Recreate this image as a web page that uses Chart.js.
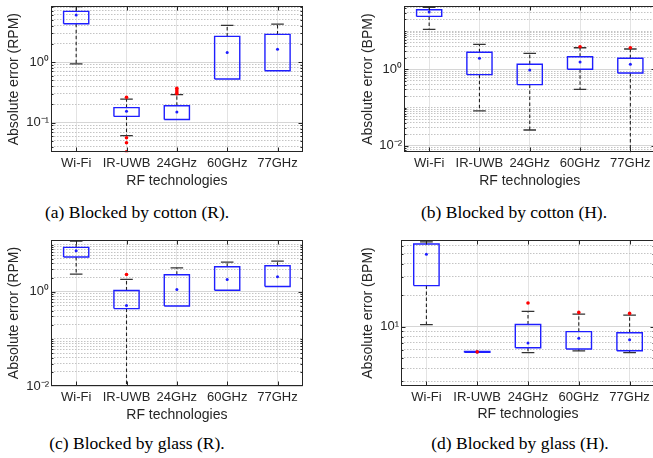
<!DOCTYPE html>
<html><head><meta charset="utf-8">
<script src="https://cdn.jsdelivr.net/npm/chart.js@4.4.1/dist/chart.umd.min.js"></script>
<style>
html,body{margin:0;padding:0;background:#fff;width:653px;height:458px;overflow:hidden;position:relative}
.pane{position:absolute}
.pane canvas{display:block}
.cap{position:absolute;font-family:"Liberation Serif","Times New Roman",serif;font-size:17.5px;color:#000;white-space:nowrap;transform:translate(-50%,-50%)}
</style></head><body>
<div class="pane" style="left:0px;top:0px"><canvas id="ca" width="326" height="195"></canvas></div>
<div class="pane" style="left:330px;top:0px"><canvas id="cb" width="340" height="195"></canvas></div>
<div class="pane" style="left:0px;top:228px"><canvas id="cc" width="326" height="200"></canvas></div>
<div class="pane" style="left:330px;top:228px"><canvas id="cd" width="340" height="200"></canvas></div>
<div class="cap" style="left:137px;top:212px">(a) Blocked by cotton (R).</div>
<div class="cap" style="left:514px;top:212px">(b) Blocked by cotton (H).</div>
<div class="cap" style="left:137px;top:443px">(c) Blocked by glass (R).</div>
<div class="cap" style="left:520px;top:443px">(d) Blocked by glass (H).</div>
<script>
const categories = ['Wi-Fi', 'IR-UWB', '24GHz', '60GHz', '77GHz'];
const xTitle = 'RF technologies';

// (a) Blocked by cotton (R) — respiration, RPM
const aYRange = [0.0325, 8.4];
const aYTicks = [0.1, 1];
const aLow    = [0.93, 0.061, 0.113, 0.525, 0.72];
const aQ1     = [4.28, 0.127, 0.113, 0.525, 0.72];
const aQ3     = [6.84, 0.177, 0.19, 2.65, 2.86];
const aHigh   = [8.2, 0.245, 0.29, 4.02, 4.23];
const aCenter = [5.95, 0.154, 0.15, 1.44, 1.62];
const aOut    = [[], [0.262, 0.0565, 0.0468, 0.033], [0.30, 0.32, 0.345, 0.37], [], []];

// (b) Blocked by cotton (H) — heartbeat, BPM
const bYRange = [0.0068, 45];
const bYTicks = [0.01, 1];
const bLow    = [11.0, 0.082, 0.026, 0.30, 0.003];
const bQ1     = [24.1, 0.726, 0.398, 1.0, 0.80];
const bQ3     = [36, 2.78, 1.35, 2.13, 1.94];
const bHigh   = [41.4, 4.49, 2.61, 3.66, 3.39];
const bCenter = [31.3, 1.94, 0.96, 1.55, 1.35];
const bOut    = [[], [], [], [3.89], [3.66]];

// (c) Blocked by glass (R)
const cYRange = [0.01, 12.6];
const cYTicks = [0.01, 1];
const cLow    = [2.38, 0.005, 0.50, 1.08, 1.30];
const cQ1     = [5.47, 0.44, 0.50, 1.08, 1.30];
const cQ3     = [8.78, 1.07, 2.3, 3.4, 3.57];
const cHigh   = [11.97, 1.83, 3.24, 4.28, 4.49];
const cCenter = [7.45, 0.51, 1.12, 1.83, 2.08];
const cOut    = [[], [2.34], [], [], []];

// (d) Blocked by glass (H)
const dYRange = [2.69, 68];
const dYTicks = [10];
const dLow    = [10.45, 5.66, 5.62, 5.84, 5.62];
const dQ1     = [24.8, 5.66, 6.28, 6.1, 5.87];
const dQ3     = [62.3, 5.78, 10.5, 8.95, 8.75];
const dHigh   = [65.2, 5.78, 14.0, 13.2, 12.9];
const dCenter = [49.7, 5.72, 6.97, 7.72, 7.5];
const dOut    = [[], [5.72], [16.9], [13.7], [13.4]];

const FONT = '"Liberation Sans", Arial, Helvetica, sans-serif';
const INK = '#262626';
const BLUE = '#1e1eff';

const SUP = {'0':'⁰','1':'¹','2':'²','3':'³','4':'⁴','5':'⁵','6':'⁶','7':'⁷','8':'⁸','9':'⁹','-':'⁻'};
function powLabel(v) { const e = Math.round(Math.log10(v)); return '10' + String(e).split('').map(c => SUP[c]).join(''); }

function boxPlot(id, geo, yTitle, yRange, yMajor, low, q1, q3, high, center, outliers) {
  const isMajor = v => yMajor.some(m => Math.abs(Math.log10(v) - Math.log10(m)) < 1e-9);
  const BW = 0.25, CW = 0.125;
  const boxPts = [], whiskPts = [], capPts = [], cenPts = [], outPts = [];
  categories.forEach((c, i) => {
    const x = i + 1;
    boxPts.push({x: x - BW, y: q1[i]}, {x: x + BW, y: q1[i]}, {x: x + BW, y: q3[i]}, {x: x - BW, y: q3[i]}, {x: x - BW, y: q1[i]}, {x: x, y: null});
    if (high[i] > q3[i]) {
      whiskPts.push({x, y: q3[i]}, {x, y: high[i]}, {x, y: null});
      capPts.push({x: x - CW, y: high[i]}, {x: x + CW, y: high[i]}, {x, y: null});
    }
    if (low[i] < q1[i]) {
      whiskPts.push({x, y: q1[i]}, {x, y: low[i]}, {x, y: null});
      capPts.push({x: x - CW, y: low[i]}, {x: x + CW, y: low[i]}, {x, y: null});
    }
    cenPts.push({x, y: center[i]});
    outliers[i].forEach(v => outPts.push({x, y: v}));
  });
  const frame = {
    id: 'frame',
    afterDraw(chart) {
      const {ctx, chartArea: a, scales} = chart;
      ctx.save();
      ctx.strokeStyle = INK; ctx.lineWidth = 1;
      const L = Math.round(a.left) + 0.5, R = Math.round(a.right) - 0.5, T = Math.round(a.top) + 0.5, B = Math.round(a.bottom) - 0.5;
      ctx.beginPath();
      scales.y.ticks.forEach(t => {
        const p = Math.round(scales.y.getPixelForValue(t.value)) + 0.5;
        if (p < a.top || p > a.bottom) return;
        const len = isMajor(t.value) ? 4 : 2;
        ctx.moveTo(L, p); ctx.lineTo(L + len, p);
        ctx.moveTo(R, p); ctx.lineTo(R - len, p);
      });
      scales.x.ticks.forEach(t => {
        const p = Math.round(scales.x.getPixelForValue(t.value)) + 0.5;
        ctx.moveTo(p, T); ctx.lineTo(p, T + 4);
        ctx.moveTo(p, B); ctx.lineTo(p, B - 4);
      });
      ctx.stroke();
      ctx.strokeRect(L, T, R - L, B - T);
      ctx.restore();
    }
  };
  const c = geo.canvas, p = geo.plot;
  const yW = p.l - c.left, xH = c.top + c.h - p.b;
  const tickFont = {family: FONT, size: 13};
  const titleFont = {family: FONT, size: 14};
  const titleLH = 14 * 1.2;
  return new Chart(document.getElementById(id), {
    type: 'scatter',
    data: {datasets: [
      {data: outPts, showLine: false, pointRadius: 1.8, pointBackgroundColor: '#ff0000', pointBorderWidth: 0, order: 1},
      {data: cenPts, showLine: false, pointRadius: 1.5, pointBackgroundColor: BLUE, pointBorderWidth: 0, order: 2},
      {data: boxPts, showLine: true, spanGaps: false, borderColor: BLUE, borderWidth: 1.4, pointRadius: 0, order: 3},
      {data: capPts, showLine: true, spanGaps: false, borderColor: '#333333', borderWidth: 1.3, pointRadius: 0, order: 4},
      {data: whiskPts, showLine: true, spanGaps: false, borderColor: '#222222', borderWidth: 1.1, borderDash: [3.5, 2.5], pointRadius: 0, order: 5}
    ]},
    options: {
      responsive: false, animation: false, devicePixelRatio: 1,
      layout: {padding: {left: 0, top: p.t - c.top, right: c.left + c.w - p.r, bottom: 0}},
      plugins: {legend: {display: false}, tooltip: {enabled: false}},
      scales: {
        x: {
          type: 'linear', min: 0.5, max: 5.5,
          afterBuildTicks(s) { s.ticks = categories.map((n, i) => ({value: i + 1})); },
          afterFit(s) { s.height = xH; s.paddingLeft = 0; s.paddingRight = 0; },
          ticks: {autoSkip: false, maxRotation: 0, font: tickFont, color: INK, padding: geo.xTickC - p.b - 7.8,
                  callback: v => categories[Math.round(v) - 1] || ''},
          grid: {color: '#e3e3e3', lineWidth: 1, drawTicks: false},
          border: {display: false},
          title: {display: true, text: xTitle, font: titleFont, color: INK,
                  padding: {top: 0, bottom: (c.top + c.h) - geo.xTitleC - titleLH / 2}}
        },
        y: {
          type: 'logarithmic', min: yRange[0], max: yRange[1],
          afterBuildTicks(s) {
            const t = [];
            for (let e = Math.floor(Math.log10(yRange[0])); e <= Math.ceil(Math.log10(yRange[1])); e++) {
              for (let m = 1; m < 10; m++) {
                const v = m * Math.pow(10, e);
                if (v >= yRange[0] * 0.9999 && v <= yRange[1] * 1.0001) t.push({value: v, major: isMajor(v)});
              }
            }
            s.ticks = t;
          },
          afterFit(s) { s.width = yW; s.paddingTop = 0; s.paddingBottom = 0; },
          ticks: {autoSkip: false, font: tickFont, color: INK, padding: 2,
                  callback: v => isMajor(v) ? powLabel(v) : ''},
          grid: {color: ctx => (ctx.tick && isMajor(ctx.tick.value)) ? '#d6d6d6' : '#c4c4c4', lineWidth: 1, drawTicks: false},
          border: {display: false, dash: ctx => (ctx.tick && isMajor(ctx.tick.value)) ? [] : [1.5, 1.5]},
          title: {display: true, text: yTitle, font: titleFont, color: INK,
                  padding: {top: geo.yTitleC - c.left - titleLH / 2, bottom: 0}}
        }
      }
    },
    plugins: [frame]
  });
}

boxPlot('ca', {canvas: {left: 0, top: 0, w: 326, h: 195}, plot: {l: 51, t: 6, r: 302.7, b: 152.3}, xTickC: 163.3, xTitleC: 181, yTitleC: 14},
        'Absolute error (RPM)', aYRange, aYTicks, aLow, aQ1, aQ3, aHigh, aCenter, aOut);
boxPlot('cb', {canvas: {left: 330, top: 0, w: 340, h: 195}, plot: {l: 404, t: 6, r: 655.5, b: 152.3}, xTickC: 163.3, xTitleC: 181, yTitleC: 367.7},
        'Absolute error (BPM)', bYRange, bYTicks, bLow, bQ1, bQ3, bHigh, bCenter, bOut);
boxPlot('cc', {canvas: {left: 0, top: 228, w: 326, h: 200}, plot: {l: 51, t: 240, r: 302.7, b: 386}, xTickC: 397.7, xTitleC: 415, yTitleC: 14},
        'Absolute error (RPM)', cYRange, cYTicks, cLow, cQ1, cQ3, cHigh, cCenter, cOut);
boxPlot('cd', {canvas: {left: 330, top: 228, w: 340, h: 200}, plot: {l: 401, t: 240, r: 655, b: 386}, xTickC: 397.7, xTitleC: 414, yTitleC: 368},
        'Absolute error (BPM)', dYRange, dYTicks, dLow, dQ1, dQ3, dHigh, dCenter, dOut);
</script>
</body></html>
